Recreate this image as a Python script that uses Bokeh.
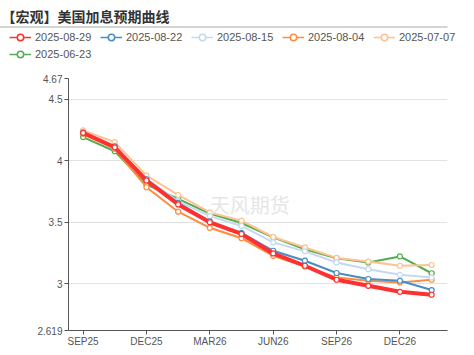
from bokeh.plotting import figure
from bokeh.layouts import column, row
from bokeh.models import FixedTicker, Legend, LegendItem, Label
from bokeh.core.properties import value
from bokeh.embed import file_html
from bokeh.resources import INLINE

# ---- data ----
categories = ["SEP25", "OCT25", "DEC25", "JAN26", "MAR26", "APR26",
              "JUN26", "JUL26", "SEP26", "OCT26", "DEC26", "JAN27"]
x_tick_index = [0, 2, 4, 6, 8, 10]

series_names = ["2025-08-29", "2025-08-22", "2025-08-15",
                "2025-08-04", "2025-07-07", "2025-06-23"]
s_0829 = [4.228, 4.110, 3.840, 3.645, 3.500, 3.405, 3.246, 3.146, 3.032, 2.983, 2.934, 2.910]
s_0822 = [4.230, 4.117, 3.850, 3.657, 3.507, 3.413, 3.268, 3.187, 3.087, 3.038, 3.024, 2.948]
s_0815 = [4.235, 4.120, 3.853, 3.670, 3.550, 3.470, 3.336, 3.263, 3.173, 3.118, 3.072, 3.050]
s_0804 = [4.220, 4.098, 3.785, 3.586, 3.455, 3.370, 3.227, 3.140, 3.050, 3.024, 3.010, 3.032]
s_0707 = [4.247, 4.152, 3.880, 3.722, 3.580, 3.513, 3.380, 3.295, 3.210, 3.180, 3.146, 3.152]
s_0623 = [4.193, 4.078, 3.807, 3.690, 3.570, 3.494, 3.377, 3.279, 3.206, 3.173, 3.222, 3.085]

y_ticks = [2.619, 3, 3.5, 4, 4.5, 4.67]
y_tick_labels = ["2.619", "3", "3.5", "4", "4.5", "4.67"]
y_grid = [3, 3.5, 4, 4.5]

title_text = "【宏观】美国加息预期曲线"
watermark_text = "天风期货"

colors = ["#ff3030", "#4a8cc4", "#c4d9ef", "#fd8d3c", "#fdc28f", "#52ad4e"]
widths = [4, 2, 2, 2, 2, 2]
series = [s_0829, s_0822, s_0815, s_0804, s_0707, s_0623]

FONT = "Liberation Sans"
CJK = "Noto Sans CJK SC"

# ---------- header figure: title, separator, legend ----------
top = figure(width=474, height=70, output_backend="svg", toolbar_location=None,
             x_range=(0, 474), y_range=(70, 0), x_axis_type=None, y_axis_type=None,
             min_border=0, min_border_left=0, min_border_right=0,
             min_border_top=0, min_border_bottom=0)
top.outline_line_color = None
top.grid.visible = False
top.background_fill_color = "white"
top.border_fill_color = "white"

top.text(x=[9], y=[15.5], text=[title_text], text_font=value(CJK),
         text_font_size="14px", text_font_style="bold", text_color="#333333",
         text_baseline="middle", text_align="left")
top.segment(x0=[0], y0=[26.5], x1=[455], y1=[26.5], line_color="#a9a9a9", line_width=1.2)

items = []
for i in range(len(series)):
    lr = top.line(x=[-100, -90], y=[-100, -100], line_color=colors[i], line_width=1.5)
    sr = top.scatter(x=[-100], y=[-100], marker="circle", size=9, line_color=colors[i],
                     fill_color="white", line_width=1.5)
    items.append(LegendItem(label=series_names[i], renderers=[lr, sr]))
legend = Legend(items=items, orientation="horizontal", ncols=5,
                location=(17, 8), padding=0, margin=0, spacing=0,
                glyph_width=22, glyph_height=16, label_standoff=4,
                label_height=17, label_width=65,
                label_text_font=FONT, label_text_font_size="11px", label_text_color="#555555",
                border_line_alpha=0, background_fill_alpha=0)
top.add_layout(legend, "center")

# ---------- main chart ----------
p = figure(width=474, height=285, output_backend="svg", toolbar_location=None,
           x_range=(-0.46, 11.5), y_range=(2.619, 4.67),
           frame_width=379, frame_height=252,
           min_border_left=76, min_border_right=19, min_border_top=8, min_border_bottom=25)
p.outline_line_color = None
p.background_fill_color = "white"
p.border_fill_color = "white"
p.xgrid.visible = False
p.ygrid.ticker = FixedTicker(ticks=y_grid)
p.ygrid.grid_line_color = "#e2e2e2"

xs = list(range(len(categories)))
for i in reversed(range(len(series))):
    p.line(xs, series[i], line_color=colors[i], line_width=widths[i])
    p.scatter(xs, series[i], marker="circle", size=5, line_color=colors[i],
              fill_color="white", line_width=1.2)

p.xaxis.ticker = FixedTicker(ticks=x_tick_index)
p.xaxis.major_label_overrides = {i: categories[i] for i in x_tick_index}
p.yaxis.ticker = FixedTicker(ticks=y_ticks)
p.yaxis.major_label_overrides = {t: l for t, l in zip(y_ticks, y_tick_labels)}
for ax in (p.xaxis[0], p.yaxis[0]):
    ax.axis_line_color = "#555555"
    ax.major_tick_line_color = "#555555"
    ax.major_tick_out = 4
    ax.major_tick_in = 0
    ax.minor_tick_line_color = None
    ax.major_label_text_font = FONT
    ax.major_label_text_font_size = "10px"
    ax.major_label_text_color = "#555555"
p.xaxis.major_label_standoff = 1
p.yaxis.major_label_standoff = 2

p.add_layout(Label(x=4.0, y=3.648, text=watermark_text, text_font=CJK, text_font_size="20px",
                   text_color="#e6e6e6", text_baseline="middle"))

layout = column(row(top), row(p), margin=(0, -8, -8, -8), spacing=0)
open("out.html", "w").write(file_html(layout, INLINE))
